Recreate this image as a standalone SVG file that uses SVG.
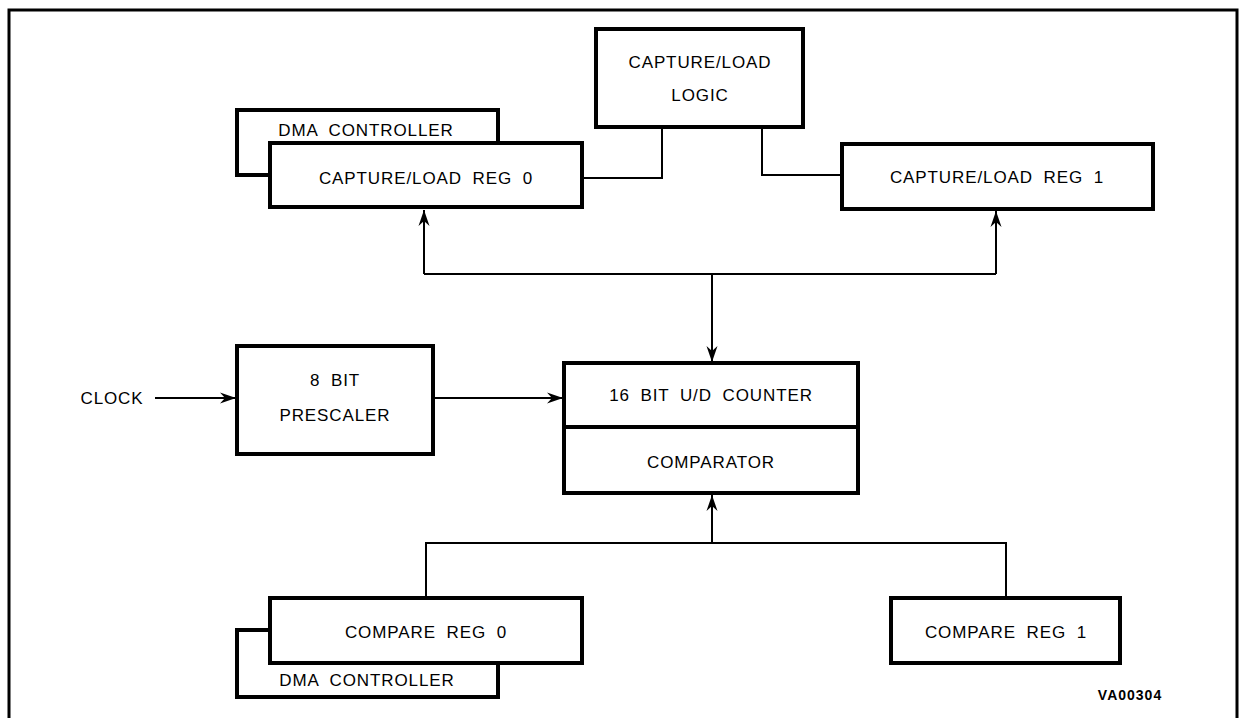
<svg xmlns="http://www.w3.org/2000/svg" width="1239" height="718" viewBox="0 0 1239 718">
<style>
.box{fill:#fff;stroke:#000;stroke-width:4}
.dma{fill:none;stroke:#000;stroke-width:4}
.ln{fill:none;stroke:#000;stroke-width:2}
text{font-family:"Liberation Sans",Arial,sans-serif;font-size:17px;letter-spacing:0.9px;word-spacing:5px;fill:#000;text-anchor:middle;dominant-baseline:central}
.tag{font-size:14px;font-weight:bold;letter-spacing:1px}
</style>
<defs>
<marker id="ah" markerUnits="userSpaceOnUse" markerWidth="18" markerHeight="12" refX="16" refY="6" orient="auto">
<path d="M0,0.5 L16,6 L0,11.5 L5,6 Z" fill="#000"/>
</marker>
</defs>
<path d="M9,718 V10 H1237 V718" fill="none" stroke="#000" stroke-width="3"/>
<g id="connectors">
<polyline class="ln" points="582,178 662,178 662,127"/>
<polyline class="ln" points="762,127 762,175 842,175"/>
<polyline class="ln" points="424,274 996,274"/>
<line class="ln" x1="424" y1="274" x2="424" y2="210" marker-end="url(#ah)"/>
<line class="ln" x1="996" y1="274" x2="996" y2="211" marker-end="url(#ah)"/>
<line class="ln" x1="712" y1="274" x2="712" y2="362" marker-end="url(#ah)"/>
<line class="ln" x1="155" y1="398" x2="236" y2="398" marker-end="url(#ah)"/>
<line class="ln" x1="435" y1="398" x2="563" y2="398" marker-end="url(#ah)"/>
<line class="ln" x1="712" y1="543" x2="712" y2="495" marker-end="url(#ah)"/>
<polyline class="ln" points="426,598 426,543 1006,543 1006,598"/>
</g>
<g id="logic">
<rect class="box" x="596" y="29" width="207" height="98"/>
<text x="700" y="62">CAPTURE/LOAD</text>
<text x="700" y="95">LOGIC</text>
</g>
<g id="dma0">
<path class="dma" d="M270,175 H237 V110 H498 V143"/>
<text x="366" y="130">DMA CONTROLLER</text>
</g>
<g id="clreg0">
<rect class="box" x="270" y="143" width="312" height="64"/>
<text x="426" y="178">CAPTURE/LOAD REG 0</text>
</g>
<g id="clreg1">
<rect class="box" x="842" y="144" width="311" height="65"/>
<text x="997" y="177">CAPTURE/LOAD REG 1</text>
</g>
<g id="clock">
<text x="112" y="398">CLOCK</text>
</g>
<g id="prescaler">
<rect class="box" x="237" y="346" width="196" height="108"/>
<text x="335" y="380">8 BIT</text>
<text x="335" y="415">PRESCALER</text>
</g>
<g id="counter">
<rect class="box" x="564" y="363" width="294" height="130"/>
<line x1="564" y1="427" x2="858" y2="427" stroke="#000" stroke-width="4"/>
<text x="711" y="395">16 BIT U/D COUNTER</text>
<text x="711" y="462">COMPARATOR</text>
</g>
<g id="dma1">
<path class="dma" d="M270,630 H237 V697 H498 V663"/>
<text x="367" y="680">DMA CONTROLLER</text>
</g>
<g id="cmpreg0">
<rect class="box" x="270" y="598" width="312" height="65"/>
<text x="426" y="632">COMPARE REG 0</text>
</g>
<g id="cmpreg1">
<rect class="box" x="891" y="598" width="229" height="65"/>
<text x="1006" y="632">COMPARE REG 1</text>
</g>
<text class="tag" x="1130" y="695">VA00304</text>
</svg>
